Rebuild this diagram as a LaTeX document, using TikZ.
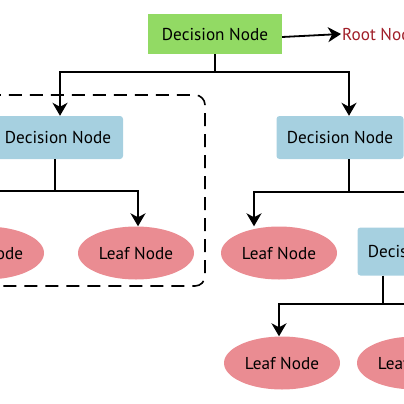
\documentclass[tikz,border=0pt]{standalone}
\usepackage{fontspec}
\setmainfont{PT Sans}
\usetikzlibrary{arrows.meta,shapes.geometric}
\definecolor{rootgreen}{RGB}{146,218,100}
\definecolor{decblue}{RGB}{166,208,224}
\definecolor{leafpink}{RGB}{234,140,146}
\definecolor{rootred}{RGB}{160,30,40}

\begin{document}
\begin{tikzpicture}[x=1pt,y=-1pt,
    every node/.style={font=\fontsize{17.2}{19}\selectfont},
    rootbox/.style={fill=rootgreen,minimum width=134pt,minimum height=40pt,inner sep=0pt},
    decision/.style={fill=decblue,rounded corners=3pt,minimum width=127pt,minimum height=43pt,inner sep=0pt},
    leaf/.style={ellipse,fill=leafpink,minimum width=116pt,minimum height=53pt,inner sep=0pt},
    link/.style={line width=1.8pt},
    arr/.style={link,-{Stealth[length=13pt,width=15pt,inset=4pt]}}]
    % fix the frame
    \useasboundingbox (0,0) rectangle (404,404);
    \clip (0,0) rectangle (404,404);

    % draw subtree frame
    \draw[line width=1.6pt,dash pattern=on 13pt off 8pt,rounded corners=10pt] (-30,95) rectangle (205,286);

    % draw nodes
    \node[rootbox] (root) at (215,34) {Decision Node};
    \node[text=rootred,anchor=west,inner sep=1pt] (rootlbl) at (341,34) {Root Node};
    \node[decision,minimum width=130pt] (dl) at (58,137.5) {Decision Node};
    \node[decision] (dr) at (340,137.5) {Decision Node};
    \node[leaf] (ll1) at (-14,253) {Leaf Node};
    \node[leaf] (ll2) at (136,253) {Leaf Node};
    \node[leaf] (rl1) at (279,253) {Leaf Node};
    \node[decision,minimum height=48pt] (dr2) at (421,251.5) {Decision Node};
    \node[leaf] (rl2) at (282,363) {Leaf Node};
    \node[leaf] (rl3) at (415,363) {Leaf Node};

    % branch points
    \coordinate (j0) at (215,72);
    \coordinate (j1) at (55,191);
    \coordinate (j2) at (349,192);
    \coordinate (j3) at (383,304);

    % draw connectors
    \draw[arr] ([yshift=-3pt]root.east) -- (rootlbl.west);
    \draw[link] (root.south) -- (j0);
    \draw[arr] (j0) -| ([xshift=2pt]dl.north);
    \draw[arr] (j0) -| ([xshift=9pt]dr.north);
    \draw[link] (j1 |- dl.south) -- (j1);
    \draw[arr] (j1) -| (ll1.north);
    \draw[arr] (j1) -| ([xshift=2pt]ll2.north);
    \draw[link] (j2 |- dr.south) -- (j2);
    \draw[arr] (j2) -| ([xshift=-25pt]rl1.north);
    \draw[arr] (j2) -| (dr2.north);
    \draw[link] (j3 |- dr2.south) -- (j3);
    \draw[arr] (j3) -| ([xshift=-3pt]rl2.north);
    \draw[arr] (j3) -| (rl3.north);
\end{tikzpicture}
\end{document}
